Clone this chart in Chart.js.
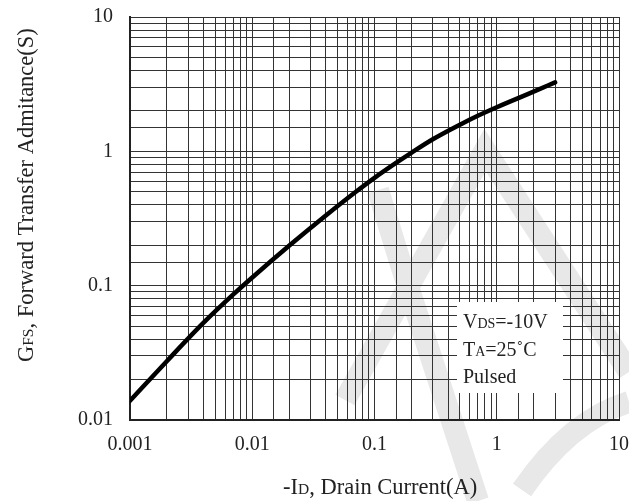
<!DOCTYPE html>
<html>
<head>
<meta charset="utf-8">
<script src="https://cdn.jsdelivr.net/npm/chart.js@4.4.1/dist/chart.umd.min.js"></script>
<style>
  html, body { margin: 0; padding: 0; background: #fff; }
  #wrap { width: 629px; height: 501px; }
</style>
</head>
<body>
<div id="wrap"><canvas id="gfsChart" width="629" height="501"></canvas></div>
<script>
// data
const drainCurrent = [0.001, 0.002, 0.004, 0.007, 0.01, 0.02, 0.04, 0.07, 0.1, 0.15, 0.2, 0.3, 0.5, 0.7, 1, 2, 3];
const transferAdmittance = [0.0139, 0.0274, 0.053, 0.086, 0.115, 0.198, 0.333, 0.498, 0.635, 0.82, 0.975, 1.23, 1.58, 1.84, 2.13, 2.78, 3.26];
const xTickLabels = ['0.001', '0.01', '0.1', '1', '10'];
const yTickLabels = ['0.01', '0.1', '1', '10'];
const noteLines = [
  [['V', 0], ['DS', 1], ['=-10V', 0]],
  [['T', 0], ['A', 1], ['=25˚C', 0]],
  [['Pulsed', 0]]
];

const SERIF = '"Liberation Serif", "DejaVu Serif", serif';

function decadeLabel(list) {
  return (v) => {
    const hit = list.find(s => Math.abs(Number(s) - v) < Number(s) * 1e-6);
    return hit || '';
  };
}

// draws a run of text pieces, small pieces are the subscript-ish caps
function drawPieces(ctx, pieces, x, y, big, small) {
  pieces.forEach(([txt, isSmall]) => {
    ctx.font = (isSmall ? small : big) + 'px ' + SERIF;
    ctx.fillText(txt, x, y);
    x += ctx.measureText(txt).width;
  });
}

// faint logo behind the grid, like the datasheet watermark
const watermark = {
  id: 'watermark',
  beforeDraw(chart) {
    const ctx = chart.ctx;
    ctx.save();
    ctx.strokeStyle = '#e8e8e8';
    ctx.lineWidth = 22;
    ctx.lineCap = 'butt';
    ctx.beginPath();
    ctx.moveTo(345, 400); ctx.lineTo(485, 150); ctx.lineTo(629, 372);
    ctx.moveTo(378, 190); ctx.lineTo(402, 268); ctx.lineTo(478, 501);
    ctx.moveTo(522, 490); ctx.quadraticCurveTo(570, 420, 629, 402);
    ctx.stroke();
    ctx.restore();
  }
};

const notesAndTitles = {
  id: 'notesAndTitles',
  beforeDatasetsDraw(chart) {
    const ctx = chart.ctx;
    const xs = chart.scales.x, ys = chart.scales.y;
    // white box behind the conditions text
    const left = Math.round(xs.getPixelForValue(0.47));
    const right = Math.round(xs.getPixelForValue(3.5));
    const top = Math.round(ys.getPixelForValue(0.076));
    const bottom = Math.round(ys.getPixelForValue(0.0159));
    ctx.save();
    ctx.fillStyle = '#fff';
    ctx.fillRect(left, top, right - left, bottom - top);
    ctx.fillStyle = '#222';
    ctx.textBaseline = 'alphabetic';
    noteLines.forEach((line, i) => {
      drawPieces(ctx, line, left + 6, top + 26 + i * 27.5, 20, 14);
    });
    ctx.restore();
  },
  afterDraw(chart) {
    const ctx = chart.ctx;
    ctx.save();
    ctx.fillStyle = '#222';
    ctx.textBaseline = 'alphabetic';
    drawPieces(ctx, [['-I', 0], ['D', 1], [', Drain Current(A)', 0]], 283, 494, 22.5, 15.5);
    ctx.translate(33, 362);
    ctx.rotate(-Math.PI / 2);
    drawPieces(ctx, [['G', 0], ['FS', 1], [', Forward Transfer Admitance(S)', 0]], 0, 0, 22.5, 15.5);
    ctx.restore();
  }
};

const gridStyle = {
  color: '#333',
  lineWidth: 1,
  drawTicks: false
};

new Chart(document.getElementById('gfsChart'), {
  type: 'line',
  data: {
    datasets: [{
      data: drainCurrent.map((x, i) => ({ x: x, y: transferAdmittance[i] })),
      borderColor: '#000',
      borderWidth: 4.5,
      pointRadius: 0,
      fill: false,
      cubicInterpolationMode: 'monotone',
      borderCapStyle: 'round'
    }]
  },
  options: {
    responsive: false,
    animation: false,
    devicePixelRatio: 1,
    layout: { padding: { left: 0, top: 17, right: 10, bottom: 0 } },
    plugins: {
      legend: { display: false },
      tooltip: { enabled: false }
    },
    scales: {
      x: {
        type: 'logarithmic',
        min: 0.001,
        max: 10,
        grid: gridStyle,
        border: { color: '#222', width: 2 },
        ticks: {
          autoSkip: false,
          maxRotation: 0,
          padding: 13,
          color: '#222',
          font: { family: SERIF, size: 20 },
          callback: decadeLabel(xTickLabels)
        },
        afterFit(scale) {
          scale.height = 81;
          scale.paddingLeft = 0;
          scale.paddingRight = 0;
        }
      },
      y: {
        type: 'logarithmic',
        min: 0.01,
        max: 10,
        grid: gridStyle,
        border: { color: '#222', width: 2 },
        ticks: {
          autoSkip: false,
          padding: 17,
          color: '#222',
          font: { family: SERIF, size: 20 },
          callback: decadeLabel(yTickLabels)
        },
        afterFit(scale) {
          scale.width = 130;
          scale.paddingTop = 0;
          scale.paddingBottom = 0;
        }
      }
    }
  },
  plugins: [watermark, notesAndTitles]
});
</script>
</body>
</html>
